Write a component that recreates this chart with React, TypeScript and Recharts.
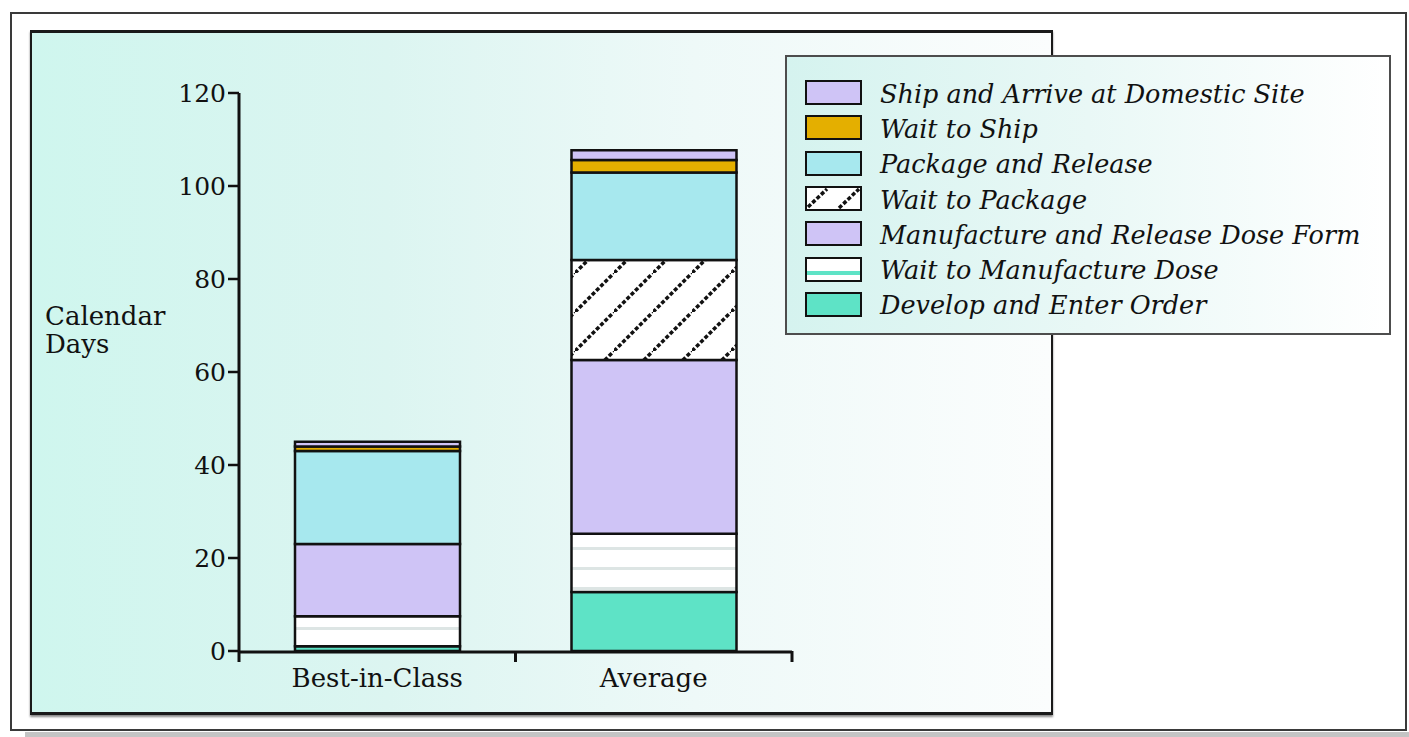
import React from 'react';
import { BarChart, Bar, XAxis, YAxis, Legend } from 'recharts';

// calendar days per step, bottom to top of each stack
const categories = ['Best-in-Class', 'Average'];
const developOrder = [1, 12.7];
const waitManufacture = [6.5, 12.5];
const manufactureDose = [15.5, 37.4];
const waitPackage = [0, 21.5];
const packageRelease = [20, 18.8];
const waitShip = [1, 2.7];
const shipArrive = [1, 2.1];

const yTicks = [0, 20, 40, 60, 80, 100, 120];
const bandEdges = [0, 1, 2];

const steps = [
  { key: 'develop', name: 'Develop and Enter Order', values: developOrder },
  { key: 'waitMfg', name: 'Wait to Manufacture Dose', values: waitManufacture },
  { key: 'mfg', name: 'Manufacture and Release Dose Form', values: manufactureDose },
  { key: 'waitPkg', name: 'Wait to Package', values: waitPackage },
  { key: 'pkg', name: 'Package and Release', values: packageRelease },
  { key: 'waitShip', name: 'Wait to Ship', values: waitShip },
  { key: 'ship', name: 'Ship and Arrive at Domestic Site', values: shipArrive },
];

const fills: Record<string, string> = {
  develop: '#5ee3c6',
  waitMfg: 'url(#waitMfgPattern)',
  mfg: '#cfc4f6',
  waitPkg: 'url(#waitPkgPattern)',
  pkg: '#a7e8ee',
  waitShip: '#e4af00',
  ship: '#cfc4f6',
};

const data = categories.map((name, i) => {
  const row: Record<string, string | number> = { name, edge: i };
  steps.forEach((s) => (row[s.key] = s.values[i]));
  return row;
});

const serif = '"DejaVu Serif", serif';

function Swatch({ k }: { k: string }) {
  return (
    <svg width={57} height={25} style={{ display: 'block', flex: 'none' }}>
      <rect x={1} y={1} width={55} height={23} fill={k === 'waitMfg' || k === 'waitPkg' ? '#fff' : fills[k]} stroke="#111" strokeWidth={2} />
      {k === 'waitMfg' && <rect x={2} y={14} width={53} height={4} fill="#5ee3c6" />}
      {k === 'waitPkg' && (
        <g stroke="#111" strokeWidth={3.5} strokeDasharray="4 2">
          <line x1={3} y1={21} x2={22} y2={3} />
          <line x1={34} y1={22} x2={54} y2={3} />
        </g>
      )}
    </svg>
  );
}

function LegendBox(props: any) {
  const order = steps.map((s) => s.key).reverse();
  const items = [...(props.payload ?? [])].sort(
    (a: any, b: any) => order.indexOf(a.dataKey) - order.indexOf(b.dataKey)
  );
  return (
    <div
      style={{
        width: 606,
        height: 280,
        boxSizing: 'border-box',
        border: '2px solid #4d4d4d',
        background: 'linear-gradient(to right, #d5f3ef 0%, #e9f8f6 50%, #ffffff 100%)',
        padding: '18px 0 0 18px',
        fontFamily: serif,
        fontStyle: 'italic',
        fontSize: 25.5,
        color: '#111',
      }}
    >
      {items.map((it: any) => (
        <div key={it.dataKey} style={{ display: 'flex', alignItems: 'center', height: 35.3 }}>
          <Swatch k={it.dataKey} />
          <span style={{ marginLeft: 18, whiteSpace: 'nowrap', position: 'relative', top: 1 }}>{it.value}</span>
        </div>
      ))}
    </div>
  );
}

function AxisTitle(props: any) {
  const { viewBox } = props;
  const x = viewBox.x - 114;
  const y = viewBox.y + 232;
  return (
    <text x={x} y={y} fontFamily={serif} fontSize={26} fill="#111">
      <tspan x={x}>Calendar</tspan>
      <tspan x={x} dy={28}>Days</tspan>
    </text>
  );
}

export default function App() {
  return (
    <div style={{ position: 'absolute', left: 0, top: 0, width: 1409, height: 737, background: '#fff', overflow: 'hidden' }}>
      <div style={{ position: 'absolute', left: 25, top: 732, width: 1384, height: 5, background: '#c4c4c4' }} />
      <div style={{ position: 'absolute', left: 10, top: 12, width: 1397, height: 719, boxSizing: 'border-box', border: '2px solid #3a3a3a' }} />
      <div
        style={{
          position: 'absolute',
          left: 30,
          top: 30,
          width: 1023,
          height: 685,
          boxSizing: 'border-box',
          border: '2px solid #1a1a1a',
          borderTopWidth: 3,
          borderBottomWidth: 3,
          boxShadow: '0 2px 2px #888',
          background: 'linear-gradient(to right, #cff6ee 0%, #dcf5f1 35%, #eef9f8 65%, #fbfdfd 100%)',
        }}
      />
      <div style={{ position: 'absolute', left: 0, top: 0 }}>
        <BarChart
          width={1409}
          height={737}
          data={data}
          margin={{ top: 93, right: 617, bottom: 84, left: 159 }}
          barSize={165}
        >
          <defs>
            <pattern id="waitMfgPattern" patternUnits="userSpaceOnUse" width={20} height={20}>
              <rect width={20} height={20} fill="#fff" />
              <rect y={7} width={20} height={3} fill="#dde5e4" />
            </pattern>
            <pattern id="waitPkgPattern" patternUnits="userSpaceOnUse" x={-10} width={39} height={39}>
              <rect width={39} height={39} fill="#fff" />
              <line x1={0} y1={39} x2={39} y2={0} stroke="#111" strokeWidth={3.5} strokeDasharray="4 2" />
            </pattern>
          </defs>
          <XAxis
            xAxisId="cat"
            dataKey="name"
            height={1}
            axisLine={{ stroke: '#111', strokeWidth: 3 }}
            tickLine={false}
            tickSize={10}
            tickMargin={7}
            tick={{ fill: '#111', fontSize: 26, fontFamily: serif }}
          />
          <XAxis
            xAxisId="band"
            dataKey="edge"
            type="number"
            domain={[0, 2]}
            allowDataOverflow
            ticks={bandEdges}
            interval={0}
            height={1}
            axisLine={false}
            tickSize={11}
            tickLine={{ stroke: '#111', strokeWidth: 3 }}
            tick={{ fontSize: 1, fill: 'none' }}
            tickFormatter={() => ''}
          />
          <YAxis
            width={80}
            domain={[0, 120]}
            ticks={yTicks}
            axisLine={{ stroke: '#111', strokeWidth: 3 }}
            tickLine={{ stroke: '#111', strokeWidth: 2.5 }}
            tickSize={11}
            tickMargin={2}
            tick={{ fill: '#111', fontSize: 25, fontFamily: serif }}
            label={<AxisTitle />}
          />
          <Legend
            layout="vertical"
            align="center"
            verticalAlign="middle"
            wrapperStyle={{ left: 785, top: 55, width: 606 }}
            content={<LegendBox />}
          />
          {steps.map((s) => (
            <Bar
              key={s.key}
              xAxisId="cat"
              dataKey={s.key}
              name={s.name}
              stackId="days"
              fill={fills[s.key]}
              stroke="#111"
              strokeWidth={2.5}
              isAnimationActive={false}
            />
          ))}
        </BarChart>
      </div>
    </div>
  );
}
